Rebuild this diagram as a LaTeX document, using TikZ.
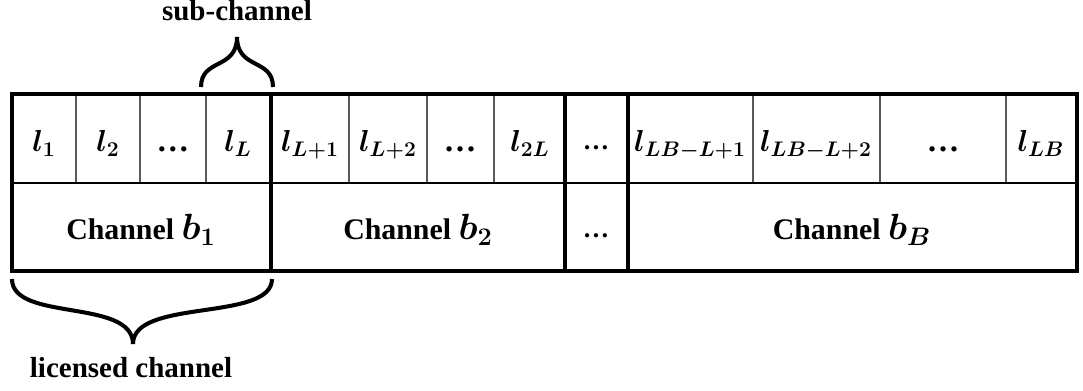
\documentclass[tikz,border=0pt]{standalone}
\usepackage{amsmath}
\usepackage{fontspec}
\setmainfont{Liberation Serif}

% channel index, set a bit larger than the text around it
\newcommand{\chidx}[1]{{\fontsize{21}{24}\selectfont\boldmath$#1$}}

\tikzset{
    thinsep/.style={draw=gray!70!black, line width=0.6pt},
    thicksep/.style={draw=black, line width=2.3pt},
    midsep/.style={draw=black, line width=1.7pt},
    slot/.style={anchor=base, inner sep=0pt, font=\fontsize{18.5}{22}\selectfont\boldmath},
    chan/.style={anchor=base, inner sep=0pt, font=\bfseries\fontsize{17}{20}\selectfont},
    gap/.style={anchor=base, inner sep=0pt, font=\bfseries\fontsize{15}{18}\selectfont},
    note/.style={anchor=base, inner sep=0pt, font=\bfseries\fontsize{16.5}{20}\selectfont},
    curly/.style={draw=black, line width=2.3pt},
}

\begin{document}
\begin{tikzpicture}[x=0.02cm, y=-0.02cm]
        \useasboundingbox (0,0) rectangle (1083,391);

        % sub-channel separators
        \foreach \x in {76,140,206,349,427,494,753,880,1006}
            \draw[thinsep] (\x,94) -- (\x,183);

        % channel frame
        \draw[midsep] (12,183) -- (1077,183);
        \foreach \x in {271,565,628}
            \draw[thicksep] (\x,94) -- (\x,271);
        \draw[thicksep] (12,94) rectangle (1077,271);

        % sub-channels
        \node[slot] (l1)   at (44,152)   {$l_1$};
        \node[slot] (l2)   at (108,152)  {$l_2$};
        \node[slot] (da)   at (173,152)  {\textbf{…}};
        \node[slot] (lL)   at (238,152)  {$l_L$};
        \node[slot] (lLa)  at (310,152)  {$l_{L+1}$};
        \node[slot] (lLb)  at (388,152)  {$l_{L+2}$};
        \node[slot] (db)   at (460,152)  {\textbf{…}};
        \node[slot] (l2L)  at (530,152)  {$l_{2L}$};
        \node[gap]  (dtop) at (596,150)  {…};
        \node[slot] (lBa)  at (690,152)  {$l_{LB-L+1}$};
        \node[slot] (lBb)  at (816,152)  {$l_{LB-L+2}$};
        \node[slot] (dc)   at (943,152)  {\textbf{…}};
        \node[slot] (lB)   at (1041,152) {$l_{LB}$};

        % licensed channels
        \node[chan] (b1)   at (141,240)  {Channel \chidx{b_1}};
        \node[chan] (b2)   at (418,240)  {Channel \chidx{b_2}};
        \node[gap]  (dbot) at (596,238)  {…};
        \node[chan] (bB)   at (852,240)  {Channel \chidx{b_B}};

        % braces
        \draw[curly] (201,87) .. controls (201,58) and (237,70) .. (237,37);
        \draw[curly] (273,87) .. controls (273,58) and (237,70) .. (237,37);
        \draw[curly] (12,279) .. controls (12,322) and (133,298) .. (133,344);
        \draw[curly] (272,279) .. controls (272,322) and (133,298) .. (133,344);

        \node[note] (sub) at (237,21)  {sub-channel};
        \node[note] (lic) at (131,378) {licensed channel};
    \end{tikzpicture}
\end{document}
